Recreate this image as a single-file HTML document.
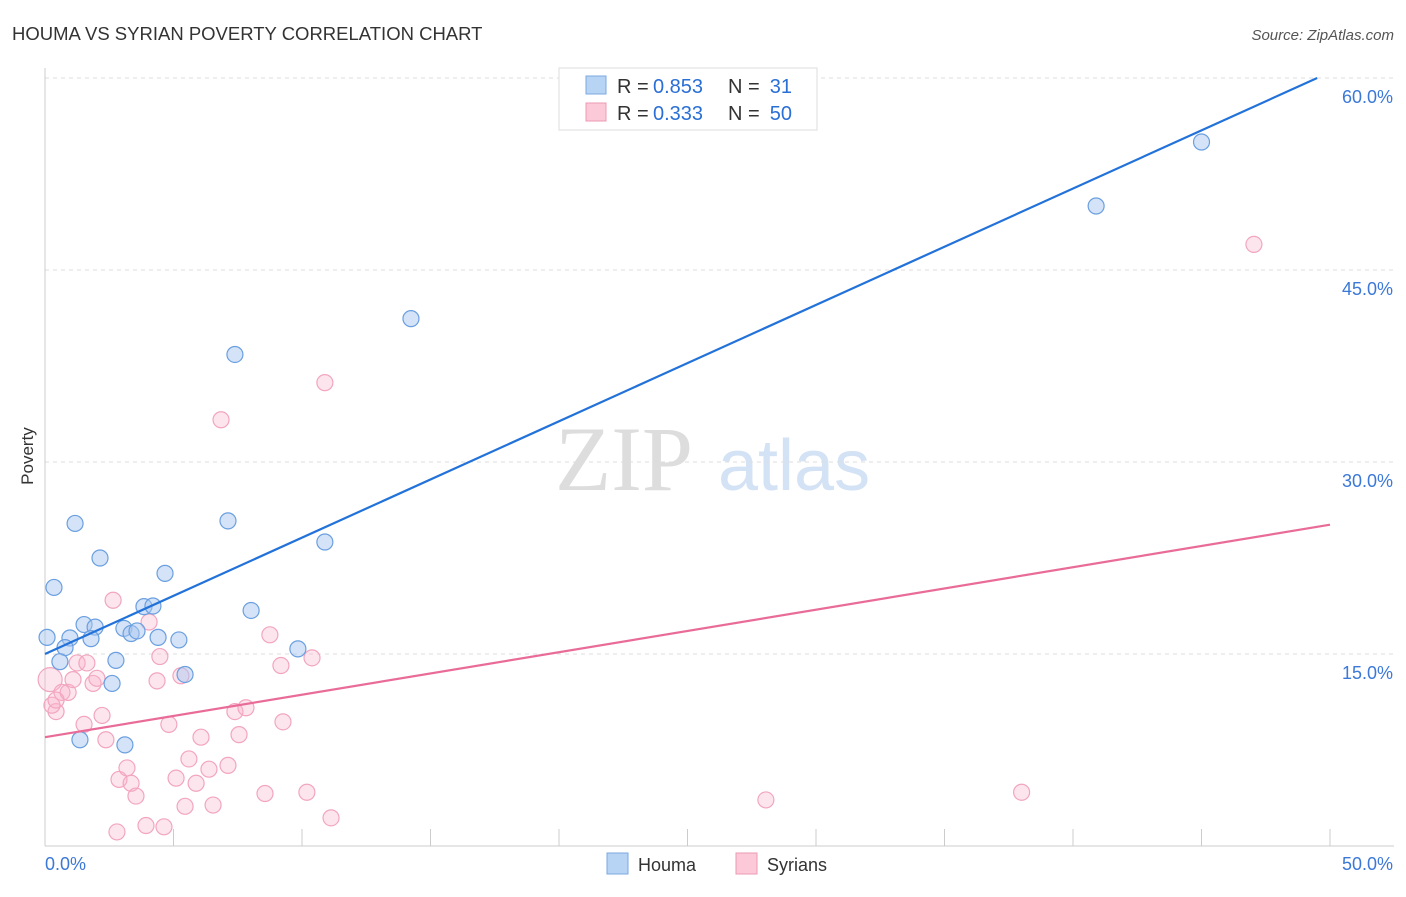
<!DOCTYPE html>
<html><head><meta charset="utf-8"><style>
body{margin:0;background:#fff;font-family:"Liberation Sans",sans-serif}
svg text{font-family:"Liberation Sans",sans-serif}
</style></head><body>
<svg id="c" width="1406" height="892">
<text x="12" y="40" font-size="18.5" fill="#333">HOUMA VS SYRIAN POVERTY CORRELATION CHART</text>
<text x="1394" y="40" font-size="15" fill="#555" font-style="italic" text-anchor="end">Source: ZipAtlas.com</text>
<text x="33" y="456" font-size="17" fill="#333" transform="rotate(-90 33 456)" text-anchor="middle">Poverty</text>
<text x="555" y="490" font-size="92" fill="#ddd" style="font-family:'Liberation Serif',serif">ZIP</text>
<text x="718" y="490" font-size="72" fill="#d4e2f5">atlas</text>
<g id="grid"></g><g id="pts"></g><g id="lines"></g>
<g>
<rect x="559" y="68" width="258" height="62" fill="#fff" stroke="#ddd"/>
<rect x="586" y="76" width="20" height="18" fill="#b8d4f5" stroke="#7aa9e0"/>
<rect x="586" y="103" width="20" height="18" fill="#fbc9d8" stroke="#ee9ab5"/>
<text x="617" y="93" font-size="20" fill="#333">R =</text>
<text x="653" y="93" font-size="20" fill="#2a6fd6">0.853</text>
<text x="728" y="93" font-size="20" fill="#333">N =</text>
<text x="792" y="93" font-size="20" fill="#2a6fd6" text-anchor="end">31</text>
<text x="617" y="120" font-size="20" fill="#333">R =</text>
<text x="653" y="120" font-size="20" fill="#2a6fd6">0.333</text>
<text x="728" y="120" font-size="20" fill="#333">N =</text>
<text x="792" y="120" font-size="20" fill="#2a6fd6" text-anchor="end">50</text>
</g>
<g>
<rect x="607" y="853" width="21" height="21" fill="#b8d4f5" stroke="#7aa9e0"/>
<text x="638" y="871" font-size="18" fill="#333">Houma</text>
<rect x="736" y="853" width="21" height="21" fill="#fbc9d8" stroke="#ee9ab5"/>
<text x="767" y="871" font-size="18" fill="#333">Syrians</text>
</g>
</svg>
<script>
const houmaX=[0.08,0.35,1.17,2.14,0.97,0.78,0.58,1.52,1.95,1.79,1.36,2.61,2.76,3.11,3.07,3.35,3.58,3.85,4.2,4.4,4.67,5.21,5.45,7.12,7.39,8.02,9.84,10.89,14.24,40.9,45.0];
const houmaY=[16.3,20.2,25.2,22.5,16.25,15.5,14.4,17.3,17.1,16.2,8.3,12.7,14.5,7.9,17.0,16.6,16.8,18.7,18.75,16.3,21.3,16.1,13.4,25.4,38.4,18.4,15.4,23.75,41.2,50.0,55.0];
const syrX=[0.2,0.43,0.27,0.66,0.9,1.09,1.25,1.63,1.52,1.87,2.02,2.22,2.37,2.65,2.88,2.8,3.19,3.35,3.54,3.93,4.05,4.36,4.47,4.63,4.82,5.1,5.29,5.45,5.6,5.88,6.07,6.38,6.54,6.85,7.12,7.39,7.55,7.82,8.56,8.75,9.18,9.26,10.19,10.39,10.89,11.13,28.05,38.0,47.04,0.43];
const syrY=[13.0,10.5,11.0,12.0,12.0,13.0,14.3,14.3,9.5,12.7,13.1,10.2,8.3,19.2,5.2,1.1,6.1,4.9,3.9,1.6,17.5,12.9,14.8,1.5,9.5,5.3,13.3,3.1,6.8,4.9,8.5,6.0,3.2,33.3,6.3,10.5,8.7,10.8,4.1,16.5,14.1,9.7,4.2,14.7,36.2,2.2,3.6,4.2,47.0,11.4];
const houmaLine=[15.0,60.0], houmaLineX=[0,49.5];
const syrLine=[8.5,25.1], syrLineX=[0,50];
const yTicks=[15,30,45,60], yTickLabels=["15.0%","30.0%","45.0%","60.0%"];
const xTicks=[0,5,10,15,20,25,30,35,40,45,50];
const sx=v=>45+v*25.7, sy=v=>846-v*12.8;
const NS="http://www.w3.org/2000/svg";
function mk(p,t,a){const e=document.createElementNS(NS,t);for(const k in a)e.setAttribute(k,a[k]);p.appendChild(e);return e;}
const g=document.getElementById('grid');
yTicks.forEach((t,i)=>{
 const l=mk(g,'line',{x1:45,x2:1394,y1:sy(t),y2:sy(t),stroke:'#ddd','stroke-dasharray':'4,4'});
 
 
 const tx=mk(g,'text',{x:1393,y:sy(t)+25,'font-size':18,fill:'#3b78d8','text-anchor':'end'});
 tx.textContent=yTickLabels[i];
 
 
});
const ax=mk(g,'line',{x1:45,x2:1394,y1:846,y2:846,stroke:'#ccc'});


const ay=mk(g,'line',{x1:45,x2:45,y1:68,y2:846,stroke:'#ccc'});


xTicks.forEach(t=>{const l=mk(g,'line',{x1:sx(t),x2:sx(t),y1:829,y2:846,stroke:'#ccc'});
 
 });
[[0,"0.0%","start",45],[50,"50.0%","end",1393]].forEach(d=>{const t=mk(g,'text',{x:d[3],y:870,'font-size':18,fill:'#3b78d8','text-anchor':d[2]});t.textContent=d[1];
 
 });
const P=document.getElementById('pts');
syrX.forEach((x,i)=>{const c=mk(P,'circle',{cx:sx(x),cy:sy(syrY[i]),r:i==0?12:8,fill:'rgba(248,180,202,0.35)',stroke:'#f2a5bf','stroke-width':1.2});
 
 });
houmaX.forEach((x,i)=>{const c=mk(P,'circle',{cx:sx(x),cy:sy(houmaY[i]),r:8,fill:'rgba(170,200,240,0.5)',stroke:'#6a9fe0','stroke-width':1.2});
 
 });
const L=document.getElementById('lines');
const b=mk(L,'line',{x1:sx(houmaLineX[0]),y1:sy(houmaLine[0]),x2:sx(houmaLineX[1]),y2:sy(houmaLine[1]),stroke:'#2272d9','stroke-width':2.2});


const p=mk(L,'line',{x1:sx(syrLineX[0]),y1:sy(syrLine[0]),x2:sx(syrLineX[1]),y2:sy(syrLine[1]),stroke:'#e96b98','stroke-width':2.2});


</script>
</body></html>
